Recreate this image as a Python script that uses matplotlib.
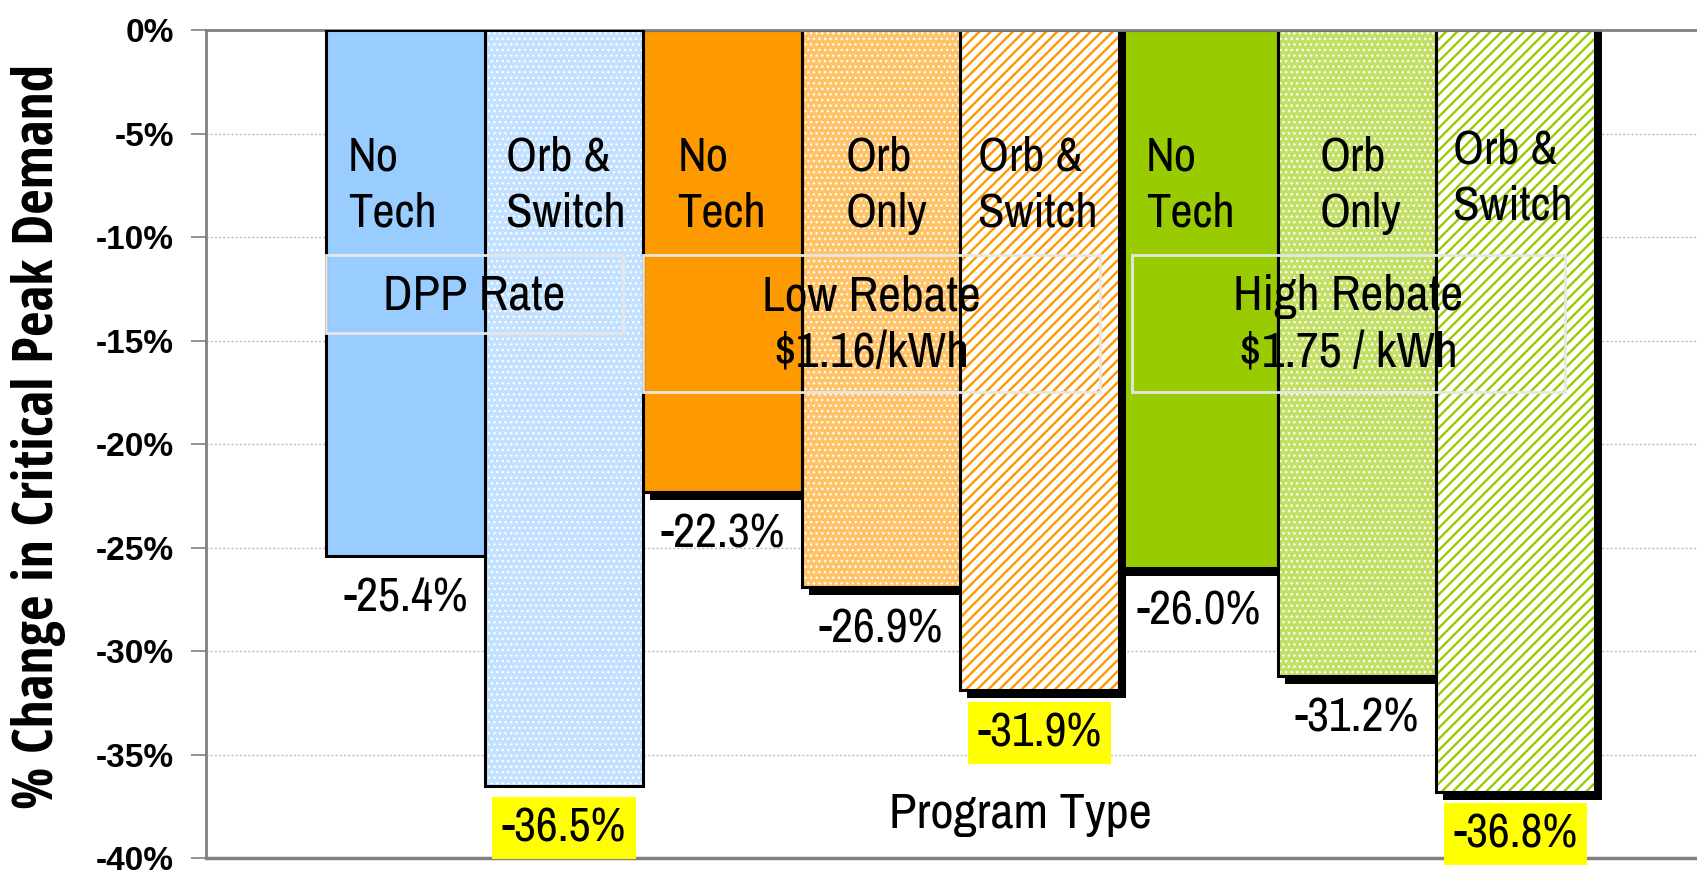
import matplotlib
matplotlib.use('Agg')
import matplotlib.pyplot as plt
from matplotlib.patches import Rectangle

# data
programs = ['DPP Rate', 'Low Rebate\n$1.16/kWh', 'High Rebate\n$1.75 / kWh']
program_bars = [[0, 1], [2, 3, 4], [5, 6, 7]]
techs = ['No\nTech', 'Orb &\nSwitch', 'No\nTech', 'Orb\nOnly', 'Orb &\nSwitch',
         'No\nTech', 'Orb\nOnly', 'Orb &\nSwitch']
change = [-25.4, -36.5, -22.3, -26.9, -31.9, -26.0, -31.2, -36.8]
highlight = [False, True, False, False, True, False, False, True]
yticks = [0, -5, -10, -15, -20, -25, -30, -35, -40]
ytick_labels = ['0%', '-5%', '-10%', '-15%', '-20%', '-25%', '-30%', '-35%', '-40%']

# styles
base = ['#99CCFF', '#99CCFF', '#FF9900', '#FF9900', '#FF9900', '#99CC00', '#99CC00', '#99CC00']
kind = ['solid', 'dots', 'solid', 'dots', 'stripes', 'solid', 'dots', 'stripes']
shadow = [False, False, True, True, True, True, True, True]
text_dx = [-13, 2, -1, 5, -2, -8, 4, -3]   # px nudges of the top labels
text_dy = [0, 0, 0, 0, 0, 0, 0, 7]

narrow = ['Archivo Narrow', 'PT Sans Narrow', 'DejaVu Sans']

def blend(c, f):
    r, g, b = matplotlib.colors.to_rgb(c)
    return (f * r + 1 - f, f * g + 1 - f, f * b + 1 - f)

W, H = 1697, 872
fig = plt.figure(figsize=(W / 100, H / 100), dpi=100)
ax = fig.add_axes([206 / W, 1 - 858 / H, (W - 206) / W, 828 / H])
xl = (-1.257, 8.144)
ax.set_xlim(*xl)
ax.set_ylim(-40, 0)
px_x = (xl[1] - xl[0]) / (W - 206)   # data units per pixel
px_y = 40 / 828

dx, dy = 7 * px_x, 8 * px_y
for g in range(len(programs) - 1, -1, -1):
    z = 3 - g
    idx = program_bars[g]
    for i in idx:
        if shadow[i]:
            ax.bar(i + dx, change[i] - dy, width=1, color='black', zorder=z)
    for i in idx:
        if kind[i] == 'solid':
            ax.bar(i, change[i], width=1, color=base[i], edgecolor='none', zorder=z + 0.1)
        elif kind[i] == 'dots':
            plt.rcParams['hatch.linewidth'] = 1.0
            ax.bar(i, change[i], width=1, color=blend(base[i], 0.6), edgecolor='white',
                   linewidth=0, hatch='...', zorder=z + 0.1)
        else:
            plt.rcParams['hatch.linewidth'] = 1.7
            ax.bar(i, change[i], width=1, color='white', edgecolor=base[i],
                   linewidth=0, hatch='///', zorder=z + 0.1)
        ax.bar(i, change[i], width=1, fill=False, edgecolor='black', linewidth=2.2, zorder=z + 0.2)

# labels on top of bars
for i, t in enumerate(techs):
    ax.text(i + text_dx[i] * px_x, -7.5 + text_dy[i] * px_y, t, ha='center', va='center',
            multialignment='left', fontsize=35, family=narrow, linespacing=1.36, zorder=10)

# value labels under bars
for i, v in enumerate(change):
    kw = {}
    if highlight[i]:
        kw['bbox'] = dict(boxstyle='square,pad=0.2', facecolor='#FFFF00', edgecolor='none')
    ax.text(i, v - 2.05, f'{v:.1f}%', ha='center', va='center', fontsize=34.5,
            family=narrow, zorder=10, **kw)

# program boxes
boxes = [(-0.5, 1.372, -10.87, -14.64), (1.498, 4.38, -10.87, -17.49), (4.58, 7.31, -10.87, -17.49)]
for name, (x0, x1, y0, y1) in zip(programs, boxes):
    ax.add_patch(Rectangle((x0, y1), x1 - x0, y0 - y1, fill=False, edgecolor='#E6E6E6',
                           linewidth=2, zorder=9))
    ax.text((x0 + x1) / 2, (y0 + y1) / 2 - 0.1, name, ha='center', va='center', fontsize=36,
            family=narrow, linespacing=1.35, zorder=10)

ax.text(3.875, -37.9, 'Program Type', ha='center', va='center', fontsize=36.5,
        family=narrow, zorder=10)

ax.set_yticks(yticks)
ax.set_yticklabels(ytick_labels, fontsize=24, fontweight='bold', family='Liberation Sans')
ax.tick_params(axis='y', length=11, width=1.2, color='#808080', pad=12)
ax.set_xticks([])
ax.yaxis.grid(True, color='#BBBBBB', linestyle=(0, (1.5, 1.5)), linewidth=1)
ax.set_axisbelow(True)
ax.spines['right'].set_visible(False)
for s in ['left', 'top', 'bottom']:
    ax.spines[s].set_color('#808080')
ax.spines['left'].set_linewidth(2)
ax.spines['top'].set_linewidth(2)
ax.spines['bottom'].set_linewidth(2.5)

fig.text(39 / W, 1 - 436 / H, '% Change in Critical Peak Demand', rotation=90, ha='center',
         va='center', fontsize=40, fontweight='bold',
         family=['Open Sans Condensed', 'DejaVu Sans'])

fig.savefig('out.png', dpi=100)
